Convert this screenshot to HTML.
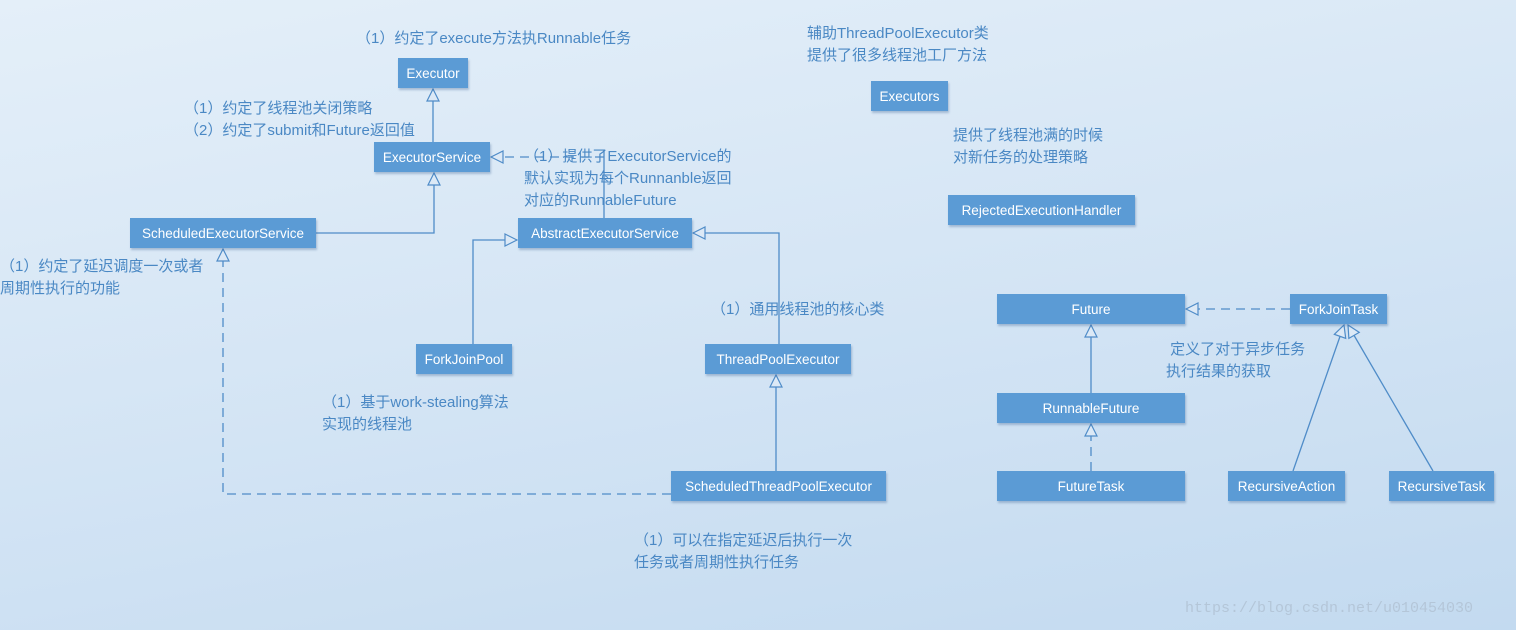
<!DOCTYPE html>
<html><head><meta charset="utf-8"><style>
html,body{margin:0;padding:0}
body{width:1516px;height:630px;position:relative;overflow:hidden;
background:linear-gradient(170deg,#e4eff9 0%,#d6e6f5 45%,#c3daf0 100%);
font-family:"Liberation Sans","Noto Sans CJK SC",sans-serif}
.b{position:absolute;background:#5b9bd5;color:#fff;font-size:13.5px;display:flex;align-items:center;justify-content:center;box-shadow:1px 2px 2px rgba(60,100,150,.35);white-space:nowrap}
.t{position:absolute;color:#4a88c4;font-size:15px;line-height:22px;white-space:nowrap}
svg{position:absolute;left:0;top:0}
</style></head><body>
<svg width="1516" height="630" fill="none" stroke="#4f8cc8" stroke-width="1.3">
<defs><marker id="h" viewBox="0 0 14 14" refX="13" refY="7" markerWidth="14" markerHeight="14" markerUnits="userSpaceOnUse" orient="auto"><path d="M1 1 L13 7 L1 13 Z" fill="#dce9f6" stroke="#4f8cc8" stroke-width="1.2"/></marker></defs>
<path d="M433 142 V89" marker-end="url(#h)"/>
<path d="M316 233 H434 V173" marker-end="url(#h)"/>
<path d="M604 218 V150"/>
<path d="M604 157 H491" stroke-dasharray="9 6" marker-end="url(#h)"/>
<path d="M473 344 V240 H517" marker-end="url(#h)"/>
<path d="M779 344 V233 H693" marker-end="url(#h)"/>
<path d="M776 471 V375" marker-end="url(#h)"/>
<path d="M671 494 H223 V249" stroke-dasharray="9 6" marker-end="url(#h)"/>
<path d="M1290 309 H1186" stroke-dasharray="9 6" marker-end="url(#h)"/>
<path d="M1091 393 V325" marker-end="url(#h)"/>
<path d="M1091 471 V424" stroke-dasharray="9 6" marker-end="url(#h)"/>
<path d="M1293 471 L1344 325" marker-end="url(#h)"/>
<path d="M1433 471 L1348 325" marker-end="url(#h)"/>
</svg>
<div class="b" style="left:398px;top:58px;width:70px;height:30px">Executor</div>
<div class="b" style="left:374px;top:142px;width:116px;height:30px">ExecutorService</div>
<div class="b" style="left:130px;top:218px;width:186px;height:30px">ScheduledExecutorService</div>
<div class="b" style="left:518px;top:218px;width:174px;height:30px">AbstractExecutorService</div>
<div class="b" style="left:416px;top:344px;width:96px;height:30px">ForkJoinPool</div>
<div class="b" style="left:705px;top:344px;width:146px;height:30px">ThreadPoolExecutor</div>
<div class="b" style="left:671px;top:471px;width:215px;height:30px">ScheduledThreadPoolExecutor</div>
<div class="b" style="left:871px;top:81px;width:77px;height:30px">Executors</div>
<div class="b" style="left:948px;top:195px;width:187px;height:30px">RejectedExecutionHandler</div>
<div class="b" style="left:997px;top:294px;width:188px;height:30px">Future</div>
<div class="b" style="left:1290px;top:294px;width:97px;height:30px">ForkJoinTask</div>
<div class="b" style="left:997px;top:393px;width:188px;height:30px">RunnableFuture</div>
<div class="b" style="left:997px;top:471px;width:188px;height:30px">FutureTask</div>
<div class="b" style="left:1228px;top:471px;width:117px;height:30px">RecursiveAction</div>
<div class="b" style="left:1389px;top:471px;width:105px;height:30px">RecursiveTask</div>

<div class="t" style="left:356px;top:28px">（1）约定了execute方法执Runnable任务</div>
<div class="t" style="left:184px;top:98px">（1）约定了线程池关闭策略<br>（2）约定了submit和Future返回值</div>
<div class="t" style="left:524px;top:146px">（1）提供了ExecutorService的<br>默认实现为每个Runnanble返回<br>对应的RunnableFuture</div>
<div class="t" style="left:0px;top:256px">（1）约定了延迟调度一次或者<br>周期性执行的功能</div>
<div class="t" style="left:711px;top:299px">（1）通用线程池的核心类</div>
<div class="t" style="left:322px;top:392px">（1）基于work-stealing算法<br>实现的线程池</div>
<div class="t" style="left:634px;top:530px">（1）可以在指定延迟后执行一次<br>任务或者周期性执行任务</div>
<div class="t" style="left:807px;top:23px">辅助ThreadPoolExecutor类<br>提供了很多线程池工厂方法</div>
<div class="t" style="left:953px;top:125px">提供了线程池满的时候<br>对新任务的处理策略</div>
<div class="t" style="left:1166px;top:339px">&nbsp;定义了对于异步任务<br>执行结果的获取</div>
<div class="t" style="left:1185px;top:598px;color:#b4c6d8;font-family:'Liberation Mono',monospace;font-size:15px">https://blog.csdn.net/u010454030</div>
</body></html>
